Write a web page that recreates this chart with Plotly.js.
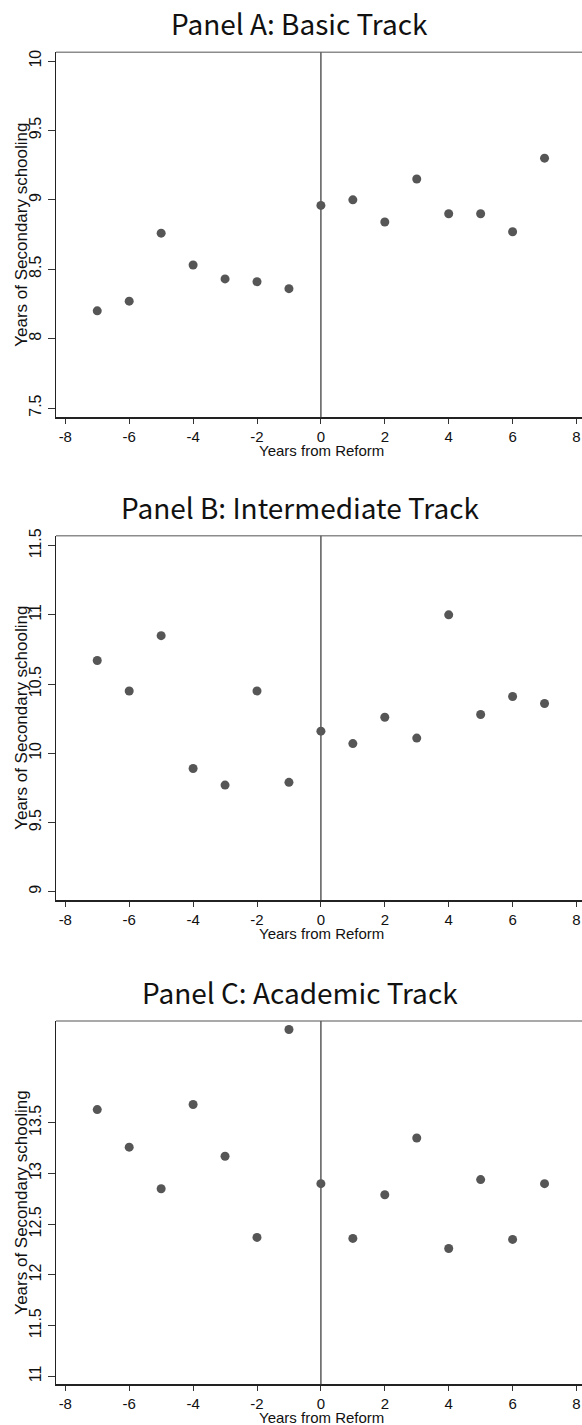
<!DOCTYPE html>
<html>
<head>
<meta charset="utf-8">
<script src="https://cdn.plot.ly/plotly-3.0.1.min.js"></script>
<style>
  html, body { margin: 0; padding: 0; background: #ffffff; }
  #chart { width: 582px; height: 1425px; }
</style>
</head>
<body>
<div id="chart"></div>
<script>
// ---- Data ----
const years = [-7, -6, -5, -4, -3, -2, -1, 0, 1, 2, 3, 4, 5, 6, 7];
const basicTrack = [8.20, 8.27, 8.76, 8.53, 8.43, 8.41, 8.36, 8.96, 9.00, 8.84, 9.15, 8.90, 8.90, 8.77, 9.30];
const intermediateTrack = [10.67, 10.45, 10.85, 9.89, 9.77, 10.45, 9.79, 10.16, 10.07, 10.26, 10.11, 11.00, 10.28, 10.41, 10.36];
const academicTrack = [13.63, 13.26, 12.85, 13.68, 13.17, 12.37, 14.42, 12.90, 12.36, 12.79, 13.35, 12.26, 12.94, 12.35, 12.90];

const panelTitles = ["Panel A: Basic Track", "Panel B: Intermediate Track", "Panel C: Academic Track"];
const xTickVals = [-8, -6, -4, -2, 0, 2, 4, 6, 8];
const xTickText = ["-8", "-6", "-4", "-2", "0", "2", "4", "6", "8"];
const yTickValsA = [7.5, 8, 8.5, 9, 9.5, 10];
const yTickTextA = ["7.5", "8", "8.5", "9", "9.5", "10"];
const yTickValsB = [9, 9.5, 10, 10.5, 11, 11.5];
const yTickTextB = ["9", "9.5", "10", "10.5", "11", "11.5"];
const yTickValsC = [11, 11.5, 12, 12.5, 13, 13.5];
const yTickTextC = ["11", "11.5", "12", "12.5", "13", "13.5"];
const xTitle = "Years from Reform";
const yTitle = "Years of Secondary schooling";

// ---- Layout geometry (pixels) ----
const W = 582, H = 1425;
const plotLeft = 56, plotRight = 582;
const panels = [
  { top: 52.3, bottom: 417.3, yRange: [7.433, 10.063], tv: yTickValsA, tt: yTickTextA, y: basicTrack },
  { top: 535.7, bottom: 900.0, yRange: [8.94, 11.572], tv: yTickValsB, tt: yTickTextB, y: intermediateTrack },
  { top: 1021.0, bottom: 1384.3, yRange: [10.921, 14.504], tv: yTickValsC, tt: yTickTextC, y: academicTrack }
];
const xRange = [-8.291, 8.172];

const axisFont = { family: "Liberation Sans, Arial, sans-serif", color: "#111111" };
const titleFont = { family: "Noto Sans CJK SC, Noto Sans, sans-serif", size: 28, color: "#111111" };

const px2fy = p => 1 - p / H;
const px2fx = p => p / W;

const data = [];
const layout = {
  width: W, height: H,
  margin: { l: 0, r: 0, t: 0, b: 0 },
  paper_bgcolor: "#ffffff",
  plot_bgcolor: "#ffffff",
  showlegend: false,
  shapes: [],
  annotations: []
};

panels.forEach((p, i) => {
  const n = i === 0 ? "" : String(i + 1);
  const xa = "x" + n, ya = "y" + n;
  data.push({
    type: "scatter",
    mode: "markers",
    x: years,
    y: p.y,
    xaxis: xa, yaxis: ya,
    marker: { size: 9, color: "#565656" },
    hoverinfo: "x+y"
  });
  layout["xaxis" + n] = {
    domain: [px2fx(plotLeft), px2fx(plotRight)],
    anchor: ya,
    range: xRange,
    tickmode: "array",
    tickvals: xTickVals,
    ticktext: xTickText,
    ticks: "outside", ticklen: 5, tickwidth: 1, tickcolor: "#333333",
    showline: true, linecolor: "#222222", linewidth: 1.5,
    showgrid: false, zeroline: false,
    tickfont: Object.assign({ size: 15 }, axisFont),
    automargin: false,
    fixedrange: true
  };
  layout["yaxis" + n] = {
    domain: [px2fy(p.bottom), px2fy(p.top)],
    anchor: xa,
    range: p.yRange,
    tickmode: "array",
    tickvals: p.tv,
    ticktext: p.tt,
    tickangle: -90,
    ticks: "outside", ticklen: 7, tickwidth: 1, tickcolor: "#333333",
    showline: true, linecolor: "#222222", linewidth: 1.5,
    showgrid: false, zeroline: false,
    tickfont: Object.assign({ size: 16 }, axisFont),
    automargin: false,
    fixedrange: true
  };
  // top frame line (grey)
  layout.shapes.push({
    type: "line", xref: xa + " domain", yref: ya + " domain",
    x0: 0, x1: 1, y0: 1, y1: 1,
    line: { color: "#8c8c8c", width: 1.5 }
  });
  // reform line at x = 0
  layout.shapes.push({
    type: "line", xref: xa, yref: ya + " domain",
    x0: 0, x1: 0, y0: 0, y1: 1,
    line: { color: "#5a5a5a", width: 1.5 }
  });
  // panel title
  layout.annotations.push({
    text: panelTitles[i], showarrow: false,
    xref: "paper", yref: "paper",
    x: px2fx(300), y: px2fy(p.top - 29),
    xanchor: "center", yanchor: "middle",
    font: titleFont
  });
  // x-axis title
  layout.annotations.push({
    text: xTitle, showarrow: false,
    xref: "paper", yref: "paper",
    x: px2fx(321), y: px2fy(p.bottom + 33),
    xanchor: "center", yanchor: "middle",
    font: Object.assign({ size: 15 }, axisFont)
  });
  // y-axis title
  layout.annotations.push({
    text: yTitle, showarrow: false, textangle: -90,
    xref: "paper", yref: "paper",
    x: px2fx(22), y: px2fy((p.top + p.bottom) / 2),
    xanchor: "center", yanchor: "middle",
    font: Object.assign({ size: 17 }, axisFont)
  });
});

Plotly.newPlot("chart", data, layout, { displayModeBar: false, staticPlot: true });
</script>
</body>
</html>
